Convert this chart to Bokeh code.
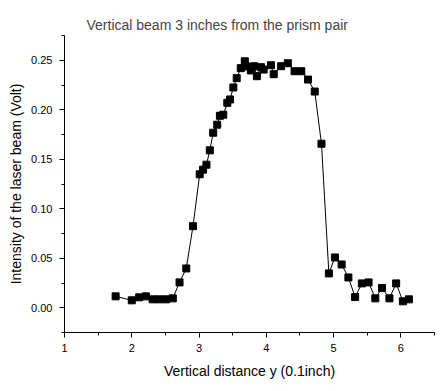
from bokeh.plotting import figure
from bokeh.models import Range1d, FixedTicker, NumeralTickFormatter
from bokeh.embed import file_html
from bokeh.resources import INLINE

title_text = "Vertical beam 3 inches from the prism pair"
x_label = "Vertical distance y (0.1inch)"
y_label = "Intensity of the laser beam (Volt)"

distance = [1.76, 2.00, 2.11, 2.21, 2.31, 2.41, 2.51, 2.61, 2.71, 2.81, 2.91,
            3.01, 3.06, 3.11, 3.16, 3.21, 3.27, 3.31, 3.36, 3.42, 3.46, 3.51,
            3.56, 3.62, 3.68, 3.71, 3.77, 3.82, 3.86, 3.92, 3.96, 4.07, 4.11,
            4.22, 4.32, 4.42, 4.52, 4.62, 4.72, 4.82, 4.93, 5.02, 5.12, 5.22,
            5.32, 5.42, 5.52, 5.62, 5.72, 5.83, 5.93, 6.03, 6.12]
intensity = [0.0115, 0.0075, 0.0105, 0.0115, 0.0085, 0.0085, 0.0085, 0.0095,
             0.0256, 0.0397, 0.0824, 0.1348, 0.1395, 0.1445, 0.1590, 0.1768,
             0.1849, 0.1939, 0.1950, 0.2070, 0.2104, 0.2225, 0.2319, 0.2420,
             0.2490, 0.2437, 0.2397, 0.2440, 0.2339, 0.2430, 0.2406, 0.2450,
             0.2359, 0.2440, 0.2470, 0.2389, 0.2389, 0.2305, 0.2184, 0.1657,
             0.0347, 0.0508, 0.0437, 0.0306, 0.0108, 0.0246, 0.0256, 0.0095,
             0.0199, 0.0095, 0.0246, 0.0065, 0.0085]

x_ticks = [1, 2, 3, 4, 5, 6]
x_minor = [1.5, 2.5, 3.5, 4.5, 5.5, 6.5]
y_ticks = [0.0, 0.05, 0.10, 0.15, 0.20, 0.25]
y_minor = [-0.025, 0.025, 0.075, 0.125, 0.175, 0.225, 0.275]

FONT = "Liberation Sans"

p = figure(width=440, height=384, output_backend="svg", toolbar_location=None,
           x_range=Range1d(1, 6.5), y_range=Range1d(-0.025, 0.275),
           x_axis_location="below", y_axis_location="left",
           min_border_left=64, min_border_right=6, min_border_top=35,
           min_border_bottom=52, title=title_text)

p.title.text_font = FONT
p.title.text_font_size = "14px"
p.title.text_font_style = "normal"
p.title.align = "left"
p.title.offset = 22
p.title.standoff = 6

p.background_fill_color = "white"
p.border_fill_color = "white"
p.outline_line_color = None
p.xgrid.visible = False
p.ygrid.visible = False

p.line(distance, intensity, line_color="black", line_width=1)
p.scatter(distance, intensity, marker="square", size=7,
          fill_color="black", line_color="black")

xa = p.xaxis[0]
xa.ticker = FixedTicker(ticks=x_ticks, minor_ticks=x_minor)
xa.axis_label = x_label
ya = p.yaxis[0]
ya.ticker = FixedTicker(ticks=y_ticks, minor_ticks=y_minor)
ya.formatter = NumeralTickFormatter(format="0.00")
ya.axis_label = y_label

for ax in (xa, ya):
    ax.axis_line_color = "black"
    ax.major_tick_line_color = "black"
    ax.minor_tick_line_color = "black"
    ax.major_tick_in = 0
    ax.major_tick_out = 5
    ax.minor_tick_in = 0
    ax.minor_tick_out = 3
    ax.major_label_text_font = FONT
    ax.major_label_text_font_size = "11px"
    ax.major_label_text_color = "black"
    ax.axis_label_text_font = FONT
    ax.axis_label_text_font_size = "14px"
    ax.axis_label_text_font_style = "normal"
    ax.axis_label_text_color = "black"

xa.major_label_standoff = 6
xa.axis_label_standoff = 8
ya.major_label_standoff = 7
ya.axis_label_standoff = 4

open("out.html", "w").write(file_html(p, INLINE))
